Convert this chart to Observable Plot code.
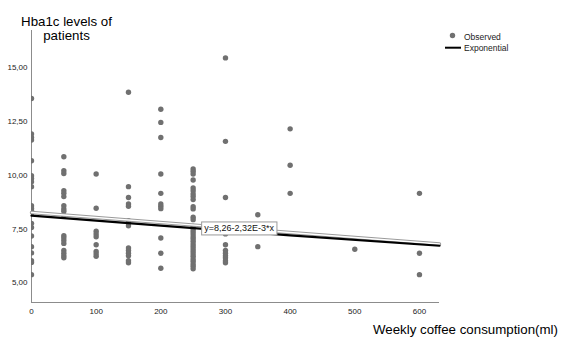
<!DOCTYPE html>
<html><head><meta charset="utf-8">
<script src="https://cdn.jsdelivr.net/npm/d3@7"></script>
<script src="https://cdn.jsdelivr.net/npm/@observablehq/plot@0.6"></script>
<style>body{margin:0;background:#fff} svg{display:block}</style>
</head><body><div id="chart"></div>
<script>
// Weekly coffee consumption (ml) levels and observed HbA1c values per level
const coffeeLevels = [0, 50, 100, 150, 200, 250, 300, 350, 400, 500, 600];
const hba1c_0   = [13.55, 11.9, 11.74, 11.62, 10.66, 9.97, 9.84, 9.69, 9.46, 8.58, 8.46, 8.35, 8.22, 7.76, 7.57, 7.17, 6.68, 6.39, 6.03, 5.95, 5.38];
const hba1c_50  = [10.85, 10.2, 10.07, 9.27, 9.15, 9.0, 8.58, 8.43, 8.32, 8.12, 7.19, 7.08, 6.96, 6.83, 6.5, 6.37, 6.26, 6.16];
const hba1c_100 = [10.05, 8.46, 7.39, 7.27, 7.14, 6.77, 6.46, 6.34, 6.23];
const hba1c_150 = [13.84, 9.46, 8.96, 8.66, 8.55, 7.88, 7.76, 7.65, 6.62, 6.5, 6.37, 6.26, 6.03, 5.93];
const hba1c_200 = [13.05, 12.44, 11.74, 10.05, 9.15, 8.66, 8.55, 8.44, 7.08, 6.37, 5.68];
const hba1c_250 = [10.28, 10.17, 10.05, 9.77, 9.4, 9.27, 9.12, 9.0, 8.86, 8.53, 8.43, 8.04, 7.93, 7.62, 7.5, 7.38, 7.27, 7.14, 7.04, 6.93, 6.8, 6.69, 6.57, 6.46, 6.34, 6.23, 6.11, 6.0, 5.88, 5.77, 5.65];
const hba1c_300 = [15.43, 11.56, 8.96, 7.27, 6.77, 6.5, 6.37, 6.26, 6.16, 6.03, 5.93];
const hba1c_350 = [8.16, 6.68];
const hba1c_400 = [12.14, 10.45, 9.15];
const hba1c_500 = [6.56];
const hba1c_600 = [9.15, 6.37, 5.38];
const hba1cGroups = [hba1c_0, hba1c_50, hba1c_100, hba1c_150, hba1c_200, hba1c_250, hba1c_300, hba1c_350, hba1c_400, hba1c_500, hba1c_600];

// Fit lines
const linearX = [0, 631];
const linearY = [8.26, 6.80];
const expX = [0, 200, 400, 631];
const expY = [8.12, 7.65, 7.20, 6.72];
const fitLabel = "y=8,26-2,32E-3*x";
const fitLabelX = 250;
const fitLabelY = 7.68;

const xTicks = [0, 100, 200, 300, 400, 500, 600];
const yTicks = [5, 7.5, 10, 12.5, 15];
const yTitle = ["Hba1c levels of", "patients"];
const xTitle = "Weekly coffee consumption(ml)";
const legendLabels = ["Observed", "Exponential"];

const rows = coffeeLevels.flatMap((c, i) => hba1cGroups[i].map(v => ({coffee: c, hba1c: v})));
const linearLine = linearX.map((x, i) => ({x, y: linearY[i]}));
const expLine = expX.map((x, i) => ({x, y: expY[i]}));

const font = "'Liberation Sans', Arial, Helvetica, sans-serif";
const yMin = 4.09, yMax = 16.7, xMax = 631;

const plot = Plot.plot({
  width: 561, height: 337,
  marginLeft: 31, marginRight: 122, marginTop: 30, marginBottom: 35,
  style: {fontFamily: font, background: "#fff", color: "#222"},
  x: {domain: [0, xMax]},
  y: {domain: [yMin, yMax]},
  marks: [
    Plot.ruleX([0], {stroke: "#8c8c8c", strokeWidth: 1}),
    Plot.ruleY([yMin], {stroke: "#8c8c8c", strokeWidth: 1}),
    Plot.axisY({ticks: yTicks, tickSize: 0, tickPadding: 4, fontSize: 8, label: null,
      tickFormat: d => d.toFixed(2).replace(".", ",")}),
    Plot.axisX({ticks: xTicks, tickSize: 0, tickPadding: 6, fontSize: 8, label: null}),
    Plot.dot(rows, {x: "coffee", y: "hba1c", r: 2.7, fill: "#707070", stroke: "none", clip: true}),
    Plot.line(linearLine, {x: "x", y: "y", stroke: "#9a9a9a", strokeWidth: 3.4}),
    Plot.line(linearLine, {x: "x", y: "y", stroke: "#fff", strokeWidth: 1.4}),
    Plot.line(expLine, {x: "x", y: "y", stroke: "#000", strokeWidth: 2.2}),
    Plot.text([{x: fitLabelX, y: fitLabelY}], {x: "x", y: "y", text: () => fitLabel,
      textAnchor: "start", dx: 11, dy: 3.5, fontSize: 9, fill: "#111"})
  ]
});
document.getElementById("chart").appendChild(plot);

const svg = d3.select(plot);
// Label box behind the fit equation (same transform as the text)
svg.selectAll("text").filter(function() { return this.textContent === fitLabel; })
  .each(function() {
    const b = this.getBBox();
    const r = document.createElementNS("http://www.w3.org/2000/svg", "rect");
    const t = this.getAttribute("transform");
    if (t) r.setAttribute("transform", t);
    r.setAttribute("x", b.x - 2.5); r.setAttribute("y", b.y - 1.5);
    r.setAttribute("width", b.width + 5); r.setAttribute("height", b.height + 3);
    r.setAttribute("fill", "#fff"); r.setAttribute("stroke", "#999"); r.setAttribute("stroke-width", 1);
    this.parentNode.insertBefore(r, this);
  });

// Y title (top-left)
svg.append("text").attr("x", 66.5).attr("y", 25.5).attr("text-anchor", "middle")
  .attr("font-size", 13.3).attr("font-family", font).attr("fill", "#000").text(yTitle[0]);
svg.append("text").attr("x", 66.5).attr("y", 39.5).attr("text-anchor", "middle")
  .attr("font-size", 13.3).attr("font-family", font).attr("fill", "#000").text(yTitle[1]);
// X title (bottom-right)
svg.append("text").attr("x", 558).attr("y", 334).attr("text-anchor", "end")
  .attr("font-size", 13.3).attr("font-family", font).attr("fill", "#000").text(xTitle);

// Legend
const lg = svg.append("g").attr("font-family", font).attr("font-size", 8.5)
  .attr("fill", "#222").attr("text-anchor", "start");
lg.append("circle").attr("cx", 452.5).attr("cy", 35.5).attr("r", 2.7).attr("fill", "#707070");
lg.append("text").attr("x", 464).attr("y", 39.5).attr("text-anchor", "start").text(legendLabels[0]);
lg.append("line").attr("x1", 445).attr("x2", 461).attr("y1", 47.7).attr("y2", 47.7)
  .attr("stroke", "#000").attr("stroke-width", 2);
lg.append("text").attr("x", 464).attr("y", 51).attr("text-anchor", "start").text(legendLabels[1]);
</script>
</body></html>
